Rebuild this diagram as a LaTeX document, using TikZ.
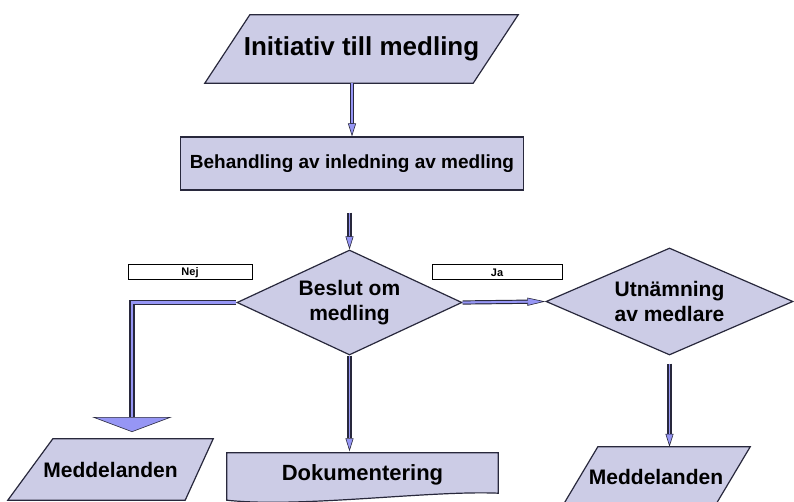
\documentclass[tikz,border=0pt]{standalone}
\usepackage{fontspec}
\setmainfont{Liberation Sans}
\usetikzlibrary{shapes.geometric,arrows.meta,backgrounds}

\definecolor{boxfill}{RGB}{204,204,230}
\definecolor{arrowfill}{RGB}{150,150,245}
\definecolor{edgecol}{RGB}{40,40,60}

\tikzset{
  txt/.style={inner sep=0pt, align=center},
  box/.style={draw=edgecol, fill=boxfill, line width=1.2pt},
  dec/.style={diamond, draw=edgecol, fill=boxfill, line width=1.2pt, inner sep=0pt, align=center,
    font=\bfseries\fontsize{21}{25}\selectfont},
  lbl/.style={draw=black, fill=white, line width=1pt, inner sep=0pt,
    font=\bfseries\fontsize{11}{12}\selectfont},
  conn/.style={draw=edgecol, line width=4.2pt, line join=miter,
    -{Triangle[length=13pt,width=8pt,fill=arrowfill,line width=0.6pt]},
    postaction={draw=arrowfill, line width=1.8pt, -, shorten >=13pt}},
  sideconn/.style={conn,
    -{Triangle[length=18pt,width=8pt,fill=arrowfill,line width=0.6pt]},
    postaction={draw=arrowfill, line width=1.8pt, -, shorten >=18pt}},
  nejconn/.style={draw=edgecol, line width=5.5pt, line join=miter,
    -{Triangle[length=15pt,width=80pt,fill=arrowfill,line width=0.6pt]},
    postaction={draw=arrowfill, line width=2.6pt, -, shorten >=15pt}}
}

\begin{document}
\begin{tikzpicture}[x=1pt,y=-1pt]
  \useasboundingbox (0,0) rectangle (794,502);

  \node[txt, minimum width=313pt, minimum height=68pt, font=\bfseries\fontsize{26}{30}\selectfont] (init) at (361.5,49) {Initiativ till medling};
  \node[box, txt, minimum width=343pt, minimum height=53pt, font=\bfseries\fontsize{19}{23}\selectfont] (handling) at (352,163.5) {Behandling av inledning av medling};
  \node[dec, minimum width=225pt, minimum height=105pt, shape aspect=2.2] (decide) at (349.5,302.5) {Beslut om\\medling};
  \node[dec, minimum width=247pt, minimum height=107pt, shape aspect=2.3] (appoint) at (669.5,301.5) {Utnämning\\av medlare};
  \node[lbl, minimum width=124pt, minimum height=15pt] (nej) at (190,272.5) {Nej};
  \node[lbl, minimum width=130pt, minimum height=15pt] (ja) at (497,272.5) {Ja};
  \node[txt, minimum width=205pt, minimum height=61pt, font=\bfseries\fontsize{21}{25}\selectfont] (msgleft) at (110.5,469.5) {Meddelanden};
  \node[txt, minimum width=271pt, minimum height=47pt, font=\bfseries\fontsize{22}{26}\selectfont] (doc) at (362.5,475) {Dokumentering};
  \node[txt, minimum width=188pt, minimum height=60pt, font=\bfseries\fontsize{21}{25}\selectfont] (msgright) at (656,477) {Meddelanden};

  % shapes behind the texts
  \begin{pgfonlayer}{background}
    \fill[white] (0,0) rectangle (794,502);
    \draw[box] ([xshift=45pt]init.north west) -- (init.north east) -- ([xshift=-45pt]init.south east) -- (init.south west) -- cycle;
    \draw[box] ([xshift=45pt]msgleft.north west) -- (msgleft.north east) -- ([xshift=-28pt]msgleft.south east) -- (msgleft.south west) -- cycle;
    \draw[box] ([xshift=36pt]msgright.north west) -- (msgright.north east) -- ([xshift=-36pt]msgright.south east) -- (msgright.south west) -- cycle;
    \draw[box] ([yshift=-1.5pt]doc.north west) -- ([yshift=-1.5pt]doc.north east) -- ([yshift=5.5pt]doc.south east)
      .. controls ([xshift=-68pt,yshift=8.5pt]doc.south east) and ([xshift=73pt,yshift=-9.5pt]doc.south west) .. ([yshift=-1.5pt]doc.south west) -- cycle;
  \end{pgfonlayer}

  \coordinate (gapend) at (decide.north |- handling.south);
  \coordinate (nejtip) at (132,432);
  \coordinate (appgap) at ([yshift=-8pt]appoint.south);

  \draw[conn] (init.south -| handling.north) -- (handling.north);
  \draw[conn] ([yshift=-22pt]gapend) -- (decide.north);
  \draw[nejconn] (decide.west) -| (nejtip);
  \draw[sideconn] (decide.east) -- (appoint.west);
  \draw[conn] (decide.south) -- (decide.south |- doc.north);
  \draw[conn] (appgap) -- (appgap |- msgright.north);
\end{tikzpicture}
\end{document}
